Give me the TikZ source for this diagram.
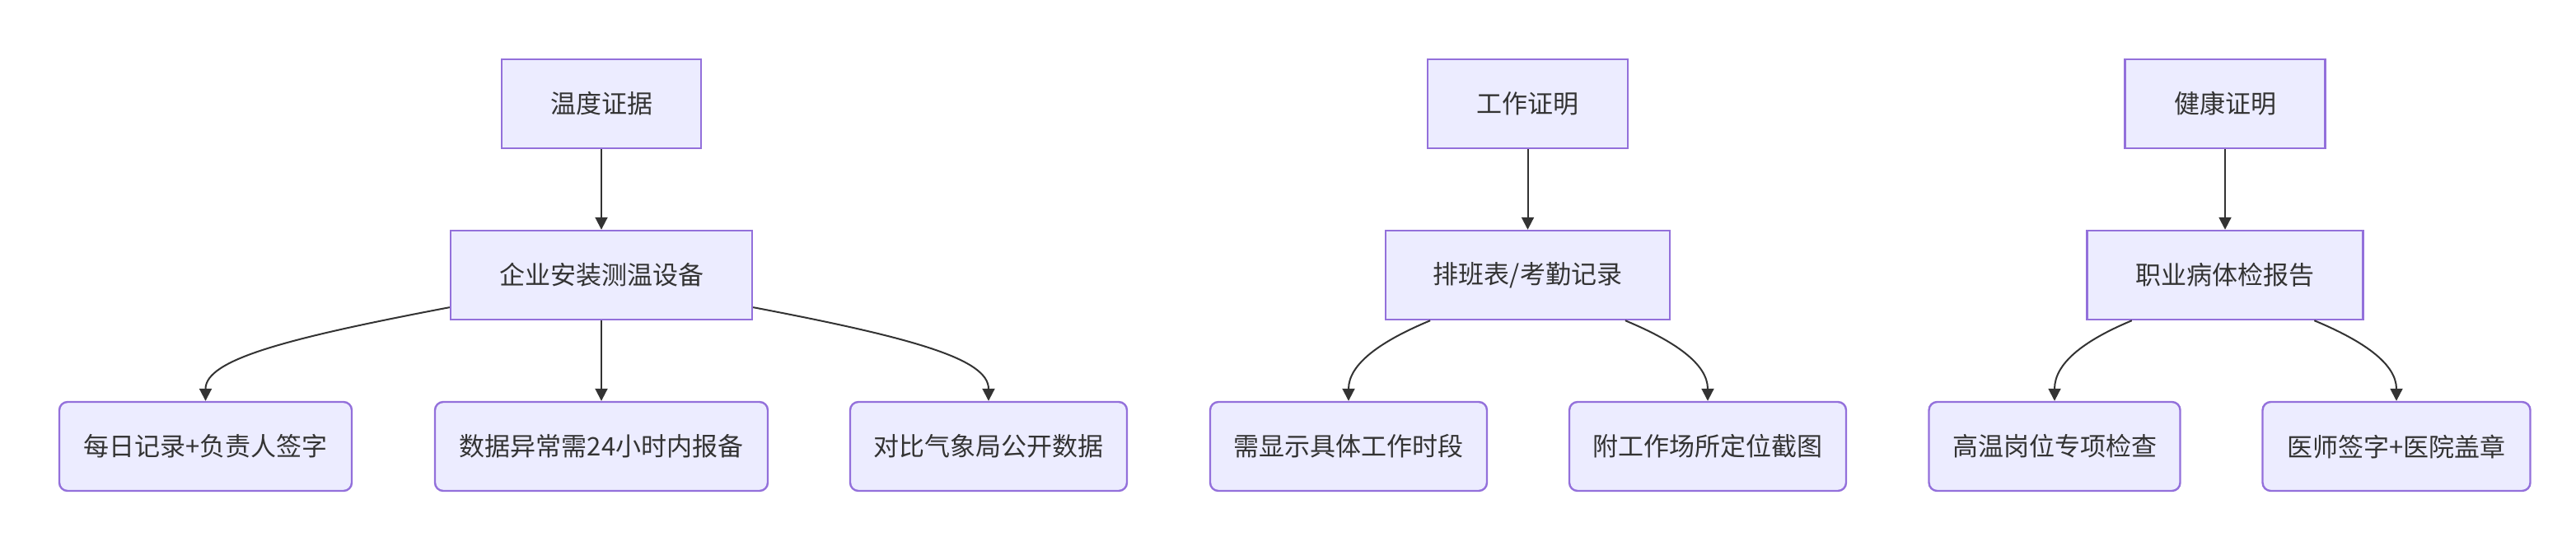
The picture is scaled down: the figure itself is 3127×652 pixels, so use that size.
\documentclass[tikz,border=0pt]{standalone}
\usepackage{xcolor}
\usepackage{fontspec}
\setmainfont{Noto Sans CJK SC}
\usetikzlibrary{arrows.meta}
\definecolor{boxfill}{HTML}{ECECFF}
\definecolor{boxline}{HTML}{9370DB}
\definecolor{ink}{HTML}{333333}
\begin{document}
\begin{tikzpicture}[x=0.5pt, y=-0.5pt,
                    box/.style = {draw=boxline, fill=boxfill, line width=1.2pt, text=ink, minimum height=54pt, inner sep=0pt, font=\fontsize{15.5pt}{18pt}\selectfont},
                    leaf/.style = {box, rounded corners=5pt},
                    arr/.style = {draw=ink, line width=1pt, -{Triangle[length=7.5pt, width=7.5pt]}}]
                            \useasboundingbox (0,0) rectangle (3127,652);

                            \node (T) [box, minimum width=121pt] at (730,126) {温度证据};
                            \node (TE) [box, minimum width=183pt] at (730,334) {企业安装测温设备};
                            \node (T1) [leaf, minimum width=177.5pt] at (249.5,542) {每日记录+负责人签字};
                            \node (T2) [leaf, minimum width=202pt] at (730,542) {数据异常需24小时内报备};
                            \node (T3) [leaf, minimum width=168pt] at (1200,542) {对比气象局公开数据};

                            \node (W) [box, minimum width=121.5pt] at (1854.5,126) {工作证明};
                            \node (WS) [box, minimum width=172.5pt] at (1854.5,334) {排班表/考勤记录};
                            \node (W1) [leaf, minimum width=168pt] at (1637,542) {需显示具体工作时段};
                            \node (W2) [leaf, minimum width=168pt] at (2073,542) {附工作场所定位截图};

                            \node (H) [box, minimum width=121.5pt] at (2701,126) {健康证明};
                            \node (HR) [box, minimum width=167.5pt] at (2701,334) {职业病体检报告};
                            \node (H1) [leaf, minimum width=152.5pt] at (2494,542) {高温岗位专项检查};
                            \node (H2) [leaf, minimum width=162.5pt] at (2909,542) {医师签字+医院盖章};

                            \draw [arr] (T) -- (TE);
                            \draw [arr] (TE) -- (T2);
                            \draw [arr] (TE.192) .. controls +(-200,38) and +(0,-50) .. (T1.north);
                            \draw [arr] (TE.348) .. controls +(200,38) and +(0,-50) .. (T3.north);

                            \draw [arr] (W) -- (WS);
                            \draw [arr] (WS.205) .. controls +(-60,25) and +(0,-45) .. (W1.north);
                            \draw [arr] (WS.335) .. controls +(60,25) and +(0,-45) .. (W2.north);

                            \draw [arr] (H) -- (HR);
                            \draw [arr] (HR.206.5) .. controls +(-60,25) and +(0,-45) .. (H1.north);
                            \draw [arr] (HR.333.5) .. controls +(60,25) and +(0,-45) .. (H2.north);
                        \end{tikzpicture}
\end{document}
